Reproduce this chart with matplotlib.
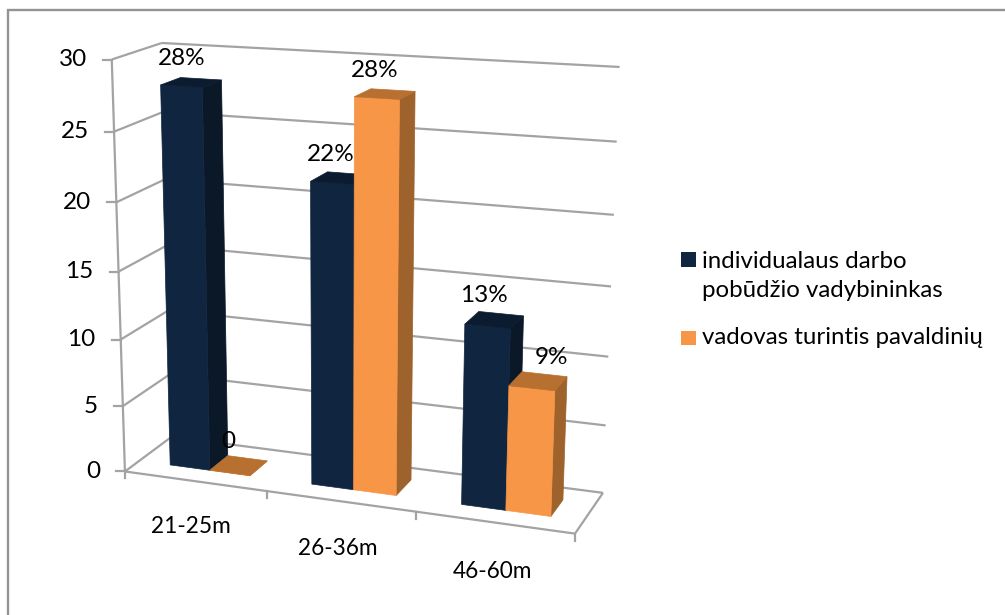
import matplotlib
matplotlib.use("Agg")
import matplotlib.pyplot as plt
from matplotlib.patches import Polygon, Rectangle
import numpy as np

plt.rcParams['font.family'] = ['Lato', 'DejaVu Sans']

# Data
categories = ["21-25m", "26-36m", "46-60m"]
series_names = ["individualaus darbo\npobūdžio vadybininkas", "vadovas turintis pavaldinių"]
manager_values = [28, 22, 13]
leader_values = [0, 28, 9]
manager_labels = ["28%", "22%", "13%"]
leader_labels = ["0", "28%", "9%"]
y_ticks = [0, 5, 10, 15, 20, 25, 30]

# Colors: front, side, top
navy = ("#10253f", "#0a1828", "#0c1c30")
orange = ("#f79646", "#9e622c", "#b7702f")
grid_color = "#a3a3a3"

# Box calibration: (category, depth, value) -> pixel position
box_points = [
    (0, 0, 0, 125, 470), (1, 0, 0, 266, 493), (2, 0, 0, 416, 515), (3, 0, 0, 574, 532),
    (0, 1, 0, 172, 437), (3, 1, 0, 603, 492), (0, 0, 30, 112, 59), (0, 1, 30, 160, 44),
    (3, 1, 30, 620, 68), (0, 0, 15, 120, 270), (3, 1, 15, 612, 285),
]

# Fit a perspective camera to the box corners
rows, rhs = [], []
for u, d, v, px, py in box_points:
    rows.append([u, d, v, 1, 0, 0, 0, 0, -px * u, -px * d, -px * v])
    rows.append([0, 0, 0, 0, u, d, v, 1, -py * u, -py * d, -py * v])
    rhs += [px, py]
cam = np.append(np.linalg.lstsq(np.array(rows, float), np.array(rhs, float), rcond=None)[0], 1).reshape(3, 4)


def project(u, d, v):
    p = cam @ np.array([u, d, v, 1.0])
    return p[0] / p[2], p[1] / p[2]


fig = plt.figure(figsize=(10.05, 6.15), dpi=100)
ax = fig.add_axes([0, 0, 1, 1])
ax.set_xlim(0, 1005)
ax.set_ylim(615, 0)
ax.axis("off")

# Chart frame, only the left and top edges show
ax.plot([8, 8, 1005], [615, 9.5, 9.5], color="#939393", lw=1.7, solid_joinstyle="miter")


def line3d(a, b, lw=1.6):
    p, q = project(*a), project(*b)
    ax.plot([p[0], q[0]], [p[1], q[1]], color=grid_color, lw=lw, zorder=1, solid_capstyle="butt")


# Walls and floor
for t in y_ticks:
    line3d((0, 0, t), (0, 1, t))
    line3d((0, 1, t), (3, 1, t))
    x, y = project(0, 0, t)
    ax.plot([x - 9, x], [y, y], color=grid_color, lw=1.6, zorder=1)
    ax.text(x - 25, y, str(t), ha="right", va="center", fontsize=17.5, color="black")
line3d((0, 0, 0), (0, 0, 30))
line3d((0, 0, 0), (3, 0, 0))
line3d((3, 0, 0), (3, 1, 0))
for i in range(4):
    x, y = project(i, 0, 0)
    ax.plot([x, x], [y, y + 7], color=grid_color, lw=1.6, zorder=1)

# Bars
gap, bar_w, d0, d1 = 0.225, 0.285, 0.30, 0.71


def draw_bar(u0, value, colors, label, label_dx=-10):
    u1 = u0 + bar_w
    front = [project(u0, d0, 0), project(u1, d0, 0), project(u1, d0, value), project(u0, d0, value)]
    side = [project(u1, d0, 0), project(u1, d1, 0), project(u1, d1, value), project(u1, d0, value)]
    top = [project(u0, d0, value), project(u1, d0, value), project(u1, d1, value), project(u0, d1, value)]
    for face, col in ((side, colors[1]), (front, colors[0]), (top, colors[2])):
        ax.add_patch(Polygon(face, closed=True, facecolor=col, edgecolor=col, lw=0.5, zorder=3))
    cx, cy = project((u0 + u1) / 2, (d0 + d1) / 2, value)
    ax.text(cx + label_dx, cy - 24, label, ha="center", va="center", fontsize=17.5, color="black", zorder=5)


leader_dx = [-10, -10, 13]
for i in range(len(categories)):
    draw_bar(i + gap, manager_values[i], navy, manager_labels[i])
    draw_bar(i + gap + bar_w, leader_values[i], orange, leader_labels[i], leader_dx[i])
    lx, ly = project(i * 0.95 + 0.8, -1.0, 0)
    ax.text(lx, ly, categories[i], ha="center", va="center", fontsize=16.3, color="black")

# Legend
ax.add_patch(Rectangle((681, 252), 15, 15, facecolor=navy[0], edgecolor="none"))
ax.add_patch(Rectangle((681, 331), 15, 14, facecolor=orange[0], edgecolor="none"))
ax.text(702, 276, series_names[0], ha="left", va="center", fontsize=17.3, linespacing=1.5, color="black")
ax.text(702, 338, series_names[1], ha="left", va="center", fontsize=17.3, color="black")

fig.savefig("out.png", dpi=100)
